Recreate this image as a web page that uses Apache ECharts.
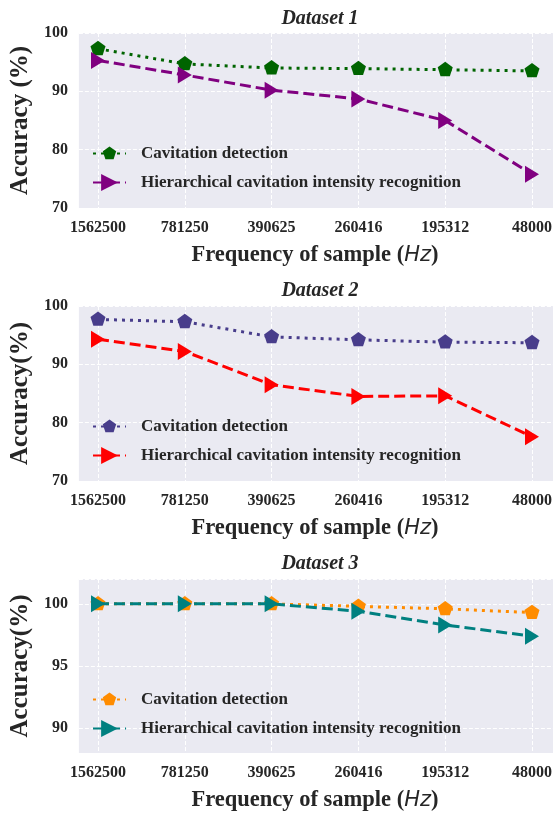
<!DOCTYPE html>
<html>
<head>
<meta charset="utf-8">
<script src="https://cdn.jsdelivr.net/npm/echarts@6/dist/echarts.min.js"></script>
<style>
html,body{margin:0;padding:0;background:#fff;}
#chart{width:556px;height:815px;}
</style>
</head>
<body>
<div id="chart"></div>
<script>
const categories = ['1562500', '781250', '390625', '260416', '195312', '48000'];
const seriesNames = ['Cavitation detection', 'Hierarchical cavitation intensity recognition'];
const panelTitles = ['Dataset 1', 'Dataset 2', 'Dataset 3'];
const yNames = ['Accuracy (%)', 'Accuracy(%)', 'Accuracy(%)'];
const d1Detection = [97.3, 94.7, 94.0, 93.9, 93.7, 93.5];
const d1Intensity = [95.3, 92.8, 90.2, 88.7, 85.0, 75.8];
const d2Detection = [97.7, 97.3, 94.7, 94.2, 93.8, 93.7];
const d2Intensity = [94.3, 92.2, 86.5, 84.5, 84.6, 77.6];
const d3Detection = [100, 100, 100, 99.8, 99.6, 99.3];
const d3Intensity = [100, 100, 100, 99.4, 98.3, 97.4];
const yMins = [70, 70, 88];
const yMaxs = [100, 100, 102];
const yStep = [10, 10, 5];

const detectionData = [d1Detection, d2Detection, d3Detection];
const intensityData = [d1Intensity, d2Intensity, d3Intensity];
const detectionColors = ['#006400', '#483D8B', '#FF8C00'];
const intensityColors = ['#800080', '#FF0000', '#008080'];

const FONT = 'Liberation Serif';
const TXT = '#262626';
const BG = '#EAEAF2';
// regular pentagon (circumradius 1) inside a padded square box so it stays centred
const pentagon = 'path://M-1.2,-1.2M1.2,1.2M0,-1L0.951,-0.309L0.588,0.809L-0.588,0.809L-0.951,-0.309Z';

const gridTops = [33, 306, 579];
const gridHeights = [175, 175, 174];
const legendTops = [140, 413, 686];
const titleTops = [4, 276, 549];

const option = {
  animation: false,
  backgroundColor: '#ffffff',
  title: [], legend: [], grid: [], xAxis: [], yAxis: [], series: []
};

for (let p = 0; p < 3; p++) {
  const pad = ' '.repeat(p);
  const gBg = p * 2, gData = p * 2 + 1;
  option.title.push({
    text: panelTitles[p], left: 315, top: titleTops[p], textAlign: 'center',
    textStyle: {fontFamily: FONT, fontStyle: 'italic', fontWeight: 'bold', fontSize: 20, color: TXT}
  });
  option.grid.push({left: 77, right: 3, top: gridTops[p], height: gridHeights[p], show: true, backgroundColor: BG, borderWidth: 0});
  option.grid.push({left: 98, right: 24, top: gridTops[p], height: gridHeights[p]});
  // background grid axes: y labels + horizontal grid lines
  option.xAxis.push({gridIndex: gBg, type: 'value', min: 0, max: 1, show: false});
  const yBg = {
    gridIndex: gBg, type: 'value', min: yMins[p], max: yMaxs[p],
    name: yNames[p], nameLocation: 'middle', nameGap: 40,
    nameTextStyle: {fontFamily: FONT, fontWeight: 'bold', fontSize: 25, color: TXT},
    axisLine: {show: false}, axisTick: {show: false},
    axisLabel: {margin: 11, fontFamily: FONT, fontWeight: 'bold', fontSize: 16, color: TXT,
      formatter: v => (v % yStep[p] === 0 ? String(v) : '')},
    splitLine: {show: true, lineStyle: {color: '#ffffff', width: 1, type: [4, 2]}}
  };
  if (yMins[p] % yStep[p] === 0) { yBg.interval = yStep[p]; }
  else { yBg.minInterval = yStep[p]; yBg.maxInterval = yStep[p]; yBg.splitNumber = 3; }
  option.yAxis.push(yBg);
  // data grid axes
  option.xAxis.push({
    gridIndex: gData, type: 'category', data: categories, boundaryGap: false,
    name: '{a|Frequency of sample (}{b|Hz}{a|)}', nameLocation: 'middle', nameGap: 36,
    nameTextStyle: {rich: {
      a: {fontFamily: FONT, fontWeight: 'bold', fontSize: 22.5, color: TXT},
      b: {fontFamily: 'DejaVu Sans', fontStyle: 'italic', fontSize: 21, color: TXT}
    }},
    axisLine: {show: false}, axisTick: {show: false},
    axisLabel: {margin: 12, fontFamily: FONT, fontWeight: 'bold', fontSize: 16, color: TXT},
    splitLine: {show: true, lineStyle: {color: '#ffffff', width: 1, type: [4, 2]}}
  });
  option.yAxis.push({gridIndex: gData, type: 'value', min: yMins[p], max: yMaxs[p], show: false});

  option.series.push({
    name: seriesNames[0] + pad, type: 'line', xAxisIndex: gData, yAxisIndex: gData,
    data: detectionData[p], color: detectionColors[p],
    lineStyle: {width: 3, type: [3, 5], cap: 'butt'},
    symbol: pentagon, symbolSize: 19, symbolKeepAspect: true,
    itemStyle: {color: detectionColors[p]}, z: 3
  });
  option.series.push({
    name: seriesNames[1] + pad, type: 'line', xAxisIndex: gData, yAxisIndex: gData,
    data: intensityData[p], color: intensityColors[p],
    lineStyle: {width: 3, type: [11, 5], cap: 'butt'},
    symbol: 'triangle', symbolRotate: -90, symbolSize: [17, 14],
    itemStyle: {color: intensityColors[p]}, z: 4
  });
  option.legend.push({
    data: [seriesNames[0] + pad, seriesNames[1] + pad],
    orient: 'vertical', left: 87, top: legendTops[p],
    itemWidth: 33, itemHeight: 21, itemGap: 12,
    formatter: n => n.trim(),
    textStyle: {fontFamily: FONT, fontWeight: 'bold', fontSize: 17, color: TXT, padding: [0, 0, 0, 10]},
    selectedMode: false
  });
}

const chart = echarts.init(document.getElementById('chart'), null, {renderer: 'canvas'});
chart.setOption(option);
</script>
</body>
</html>
